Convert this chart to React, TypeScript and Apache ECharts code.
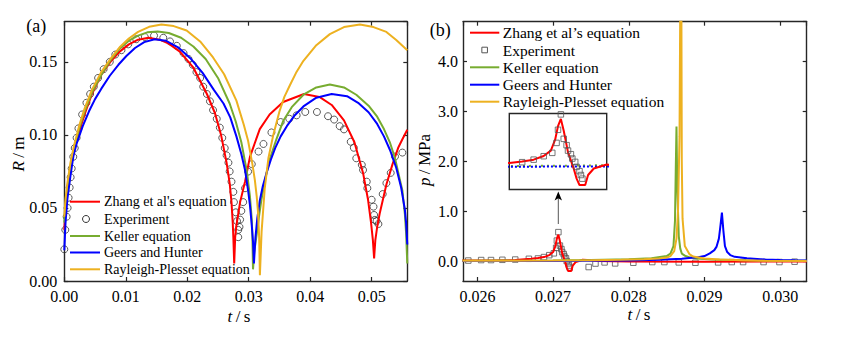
import React, { useEffect, useRef } from 'react';
import * as echarts from 'echarts';

const FONT = 'Liberation Serif, Times New Roman, Times, serif';

// ---------- Panel (a): bubble radius R (m) vs t (s) ----------
const zhangA: number[][] = [
  [0, 0.035], [0.0002, 0.048], [0.0005, 0.062], [0.001, 0.077], [0.0016, 0.089], [0.0024, 0.102],
  [0.0033, 0.114], [0.0045, 0.128], [0.006, 0.141], [0.0075, 0.150], [0.009, 0.157], [0.0105, 0.162],
  [0.012, 0.1652], [0.0137, 0.1665], [0.0155, 0.1652], [0.017, 0.1625], [0.0188, 0.157], [0.021, 0.146],
  [0.0232, 0.128], [0.0245, 0.115], [0.0255, 0.100], [0.0264, 0.081], [0.0269, 0.067], [0.0272, 0.054],
  [0.0274, 0.040], [0.0275, 0.030], [0.02764, 0.012], [0.0278, 0.030], [0.028, 0.038], [0.0286, 0.054],
  [0.0294, 0.068], [0.0302, 0.085], [0.0318, 0.104], [0.0334, 0.114], [0.0356, 0.1225], [0.039, 0.128],
  [0.0415, 0.126], [0.0435, 0.1205], [0.0455, 0.110], [0.0472, 0.095], [0.0486, 0.074], [0.0494, 0.056],
  [0.0499, 0.040], [0.0502, 0.028], [0.0504, 0.0155], [0.0506, 0.028], [0.0509, 0.037], [0.0513, 0.046],
  [0.0524, 0.066], [0.0534, 0.080], [0.0543, 0.091], [0.055, 0.097], [0.0558, 0.1035],
];
const kellerA: number[][] = [
  [0, 0.040], [0.0002, 0.053], [0.0005, 0.064], [0.001, 0.078], [0.0016, 0.090], [0.0024, 0.104],
  [0.0033, 0.116], [0.0045, 0.129], [0.006, 0.141], [0.0075, 0.151], [0.009, 0.159], [0.0105, 0.1645],
  [0.012, 0.168], [0.0135, 0.1702], [0.0152, 0.1708], [0.017, 0.1698], [0.019, 0.1665], [0.021, 0.1605],
  [0.023, 0.152], [0.025, 0.139], [0.0269, 0.1215], [0.0279, 0.109], [0.0288, 0.095], [0.0297, 0.075],
  [0.0302, 0.058], [0.0305, 0.042], [0.0306, 0.030], [0.0307, 0.008], [0.0309, 0.020], [0.0313, 0.032],
  [0.0317, 0.045], [0.0321, 0.0565], [0.0327, 0.070], [0.0334, 0.083], [0.0345, 0.097], [0.0356, 0.1095],
  [0.037, 0.119], [0.0389, 0.1275], [0.041, 0.1325], [0.0432, 0.1345], [0.0455, 0.1325], [0.0475, 0.1275],
  [0.0495, 0.120], [0.0509, 0.1125], [0.052, 0.104], [0.053, 0.0945], [0.0538, 0.084], [0.0545, 0.071],
  [0.055, 0.062], [0.0554, 0.046], [0.0556, 0.033], [0.0558, 0.012],
];
const geersA: number[][] = [
  [0, 0.021], [0.0002, 0.040], [0.0005, 0.056], [0.001, 0.072], [0.0015, 0.086], [0.002, 0.094],
  [0.003, 0.106], [0.004, 0.116], [0.005, 0.1245], [0.006, 0.1315], [0.0074, 0.1405], [0.0088, 0.148],
  [0.0101, 0.154], [0.0115, 0.1595], [0.013, 0.1635], [0.0147, 0.1655], [0.0165, 0.1645], [0.0185, 0.160],
  [0.0205, 0.1525], [0.0225, 0.1425], [0.0243, 0.131], [0.0259, 0.1215], [0.027, 0.112], [0.028, 0.099],
  [0.0288, 0.087], [0.0294, 0.076], [0.0299, 0.062], [0.0302, 0.052], [0.0305, 0.038], [0.0307, 0.027],
  [0.03085, 0.012], [0.0311, 0.030], [0.0314, 0.043], [0.0318, 0.055], [0.0323, 0.065], [0.0329, 0.074],
  [0.0336, 0.083], [0.0343, 0.091], [0.0352, 0.099], [0.0362, 0.106], [0.0375, 0.1135], [0.0389, 0.1195],
  [0.041, 0.1255], [0.0435, 0.128], [0.046, 0.1265], [0.0478, 0.122], [0.0495, 0.1155], [0.0509, 0.1075],
  [0.052, 0.099], [0.053, 0.0895], [0.054, 0.0775], [0.0548, 0.064], [0.0554, 0.049], [0.0556, 0.040],
  [0.0558, 0.025],
];
const rayleighA: number[][] = [
  [0, 0.044], [0.0002, 0.056], [0.0005, 0.067], [0.001, 0.081], [0.0016, 0.093], [0.0024, 0.106],
  [0.0033, 0.118], [0.0045, 0.131], [0.006, 0.143], [0.0075, 0.152], [0.009, 0.160], [0.0105, 0.166],
  [0.012, 0.1705], [0.0138, 0.174], [0.0158, 0.1756], [0.0178, 0.1745], [0.0199, 0.1715], [0.0221, 0.164],
  [0.0242, 0.153], [0.026, 0.1415], [0.028, 0.1235], [0.0292, 0.107], [0.0299, 0.096], [0.0306, 0.080],
  [0.031, 0.069], [0.0313, 0.058], [0.0315, 0.048], [0.0317, 0.030], [0.03182, 0.004], [0.0321, 0.034],
  [0.0326, 0.063], [0.0332, 0.084], [0.034, 0.100], [0.035, 0.116], [0.0358, 0.126], [0.0367, 0.134],
  [0.0377, 0.1425], [0.0389, 0.1507], [0.041, 0.1614], [0.0432, 0.169], [0.0455, 0.1738], [0.0481, 0.1756],
  [0.0503, 0.1738], [0.0524, 0.1705], [0.054, 0.165], [0.0558, 0.158],
];
const experimentA: number[][] = [
  [0, 0.0217], [0.00016, 0.035], [0.00038, 0.044], [0.00054, 0.050], [0.0007, 0.057], [0.00087, 0.064],
  [0.00103, 0.071], [0.0012, 0.077], [0.00146, 0.085], [0.0017, 0.091], [0.002, 0.098], [0.0023, 0.1045],
  [0.0029, 0.114], [0.0036, 0.122], [0.0042, 0.128], [0.0048, 0.133], [0.0055, 0.139], [0.0064, 0.145],
  [0.0074, 0.150], [0.0083, 0.155], [0.0093, 0.158], [0.0104, 0.162], [0.0117, 0.1655], [0.0131, 0.167],
  [0.0146, 0.168], [0.0161, 0.1665], [0.0172, 0.164], [0.0183, 0.161], [0.0194, 0.156], [0.0202, 0.152],
  [0.0209, 0.148], [0.0215, 0.143], [0.0221, 0.139], [0.0226, 0.133], [0.0232, 0.128], [0.0237, 0.123],
  [0.0242, 0.117], [0.0248, 0.111], [0.0253, 0.105], [0.0257, 0.098], [0.0261, 0.091], [0.0264, 0.086],
  [0.0267, 0.081], [0.0269, 0.075], [0.0272, 0.068], [0.0275, 0.061], [0.0276, 0.054], [0.0279, 0.047],
  [0.0281, 0.041], [0.0283, 0.035], [0.0283, 0.030], [0.0285, 0.037], [0.0286, 0.042], [0.0288, 0.048],
  [0.0291, 0.054], [0.0294, 0.0635], [0.0299, 0.0749], [0.0305, 0.080], [0.0316, 0.0886], [0.0324, 0.0938],
  [0.0337, 0.1017], [0.0352, 0.1088], [0.0366, 0.1111], [0.0378, 0.1134], [0.0392, 0.1157], [0.0411, 0.1157],
  [0.0429, 0.1128], [0.0439, 0.1105], [0.0448, 0.106], [0.0455, 0.1038], [0.0466, 0.0953], [0.0471, 0.0912],
  [0.0475, 0.084], [0.0484, 0.0795], [0.0486, 0.076], [0.0492, 0.068], [0.0493, 0.0635], [0.05, 0.0556],
  [0.0503, 0.0509], [0.0504, 0.0452], [0.0505, 0.0418], [0.0508, 0.041], [0.0511, 0.039], [0.0518, 0.0595],
  [0.0524, 0.067], [0.0531, 0.074], [0.0538, 0.0852], [0.055, 0.0879],
];

// ---------- Panel (b): pressure p (MPa) vs t (s) ----------
const zhangB: number[][] = [
  [0.0258, 0.01], [0.0262, 0.012], [0.0265, 0.02], [0.02671, 0.044], [0.0268, 0.06], [0.02688, 0.08],
  [0.02695, 0.12], [0.027, 0.18], [0.02703, 0.3], [0.02705, 0.45], [0.02707, 0.53], [0.02709, 0.40],
  [0.02712, 0.16], [0.02716, -0.02], [0.02718, -0.13], [0.0272, -0.2], [0.02724, -0.2], [0.02726, -0.09],
  [0.0273, -0.018], [0.02739, 0.026], [0.02745, 0.02], [0.0276, 0.0], [0.028, -0.01], [0.029, -0.012],
  [0.03035, -0.01],
];
const kellerB: number[][] = [
  [0.0258, 0.005], [0.027, 0.012], [0.0275, 0.02], [0.028, 0.035], [0.0283, 0.055], [0.0285, 0.1],
  [0.02855, 0.15], [0.02859, 0.3], [0.02861, 0.8], [0.02862, 1.8], [0.02863, 2.7], [0.02864, 1.5],
  [0.02866, 0.5], [0.02868, 0.25], [0.0287, 0.15], [0.02875, 0.1], [0.0288, 0.075], [0.0289, 0.05],
  [0.0291, 0.03], [0.0295, 0.015], [0.03, 0.007], [0.03035, 0.004],
];
const geersB: number[][] = [
  [0.0258, 0.0], [0.027, 0.003], [0.0275, 0.006], [0.028, 0.012], [0.0284, 0.025], [0.0287, 0.045],
  [0.0289, 0.074], [0.029, 0.1], [0.02907, 0.155], [0.02913, 0.22], [0.02916, 0.29], [0.02919, 0.45],
  [0.02921, 0.7], [0.02923, 0.97], [0.02925, 0.6], [0.02927, 0.3], [0.0293, 0.18], [0.02934, 0.12],
  [0.0294, 0.085], [0.02956, 0.054], [0.0298, 0.03], [0.03, 0.02], [0.0302, 0.015], [0.03035, 0.012],
];
const rayleighB: number[][] = [
  [0.0258, 0.005], [0.0265, 0.008], [0.027, 0.012], [0.0275, 0.018], [0.0279, 0.026], [0.0282, 0.036],
  [0.0284, 0.05], [0.0285, 0.07], [0.02855, 0.1], [0.0286, 0.2], [0.02863, 0.45], [0.02865, 1.0],
  [0.02867, 2.5], [0.02869, 8.0], [0.0287, 2.0], [0.02871, 0.85], [0.02874, 0.3], [0.0288, 0.14],
  [0.02885, 0.09], [0.029, 0.05], [0.0292, 0.03], [0.0295, 0.015], [0.0298, 0.007], [0.03035, 0.003],
];
const experimentB: number[][] = [
  [0.02588, 0.01], [0.02605, 0.02], [0.02618, 0.02], [0.02633, 0.025], [0.0265, 0.03], [0.02668, 0.045],
  [0.0268, 0.052], [0.02688, 0.08], [0.02695, 0.118], [0.02701, 0.155], [0.02704, 0.265], [0.02705, 0.41],
  [0.02707, 0.58], [0.02709, 0.31], [0.02711, 0.24], [0.02712, 0.18], [0.02714, 0.14], [0.02715, 0.092],
  [0.02717, 0.055], [0.02718, 0.0], [0.0272, -0.047], [0.02721, -0.09], [0.02722, -0.13], [0.02747, -0.12],
  [0.02756, -0.05], [0.02768, -0.027], [0.02782, -0.047], [0.02806, -0.034], [0.02831, -0.02],
  [0.02847, -0.02], [0.02866, -0.027], [0.02888, -0.034], [0.02918, -0.027], [0.02936, -0.02],
  [0.02951, -0.02], [0.02978, -0.02], [0.02999, -0.02], [0.03019, -0.013],
];

const legendNamesA = ["Zhang et al's equation", 'Experiment', 'Keller equation', 'Geers and Hunter', 'Rayleigh-Plesset equation'];
const legendNamesB = ['Zhang et al\u2019s equation', 'Experiment', 'Keller equation', 'Geers and Hunter', 'Rayleigh-Plesset equation'];

const C_RED = '#ff0000';
const C_GREEN = '#77ac30';
const C_BLUE = '#0000ff';
const C_YELLOW = '#edb120';
const C_AXIS = '#262626';

function buildOption() {
  const axisLine = { show: true, onZero: false, lineStyle: { color: C_AXIS, width: 1.4 } };
  const tick = { show: true, inside: true, length: 4, lineStyle: { color: C_AXIS, width: 1.2 } };
  const lbl = { color: '#000', fontFamily: FONT, fontSize: 16 };
  const noSplit = { show: false };

  const mkX = (grid: number, pos: string, extra: any, labels: any) => ({
    gridIndex: grid, type: 'value', position: pos, axisLine, axisTick: tick,
    axisLabel: labels, splitLine: noSplit, ...extra,
  });

  const xA = { min: 0, max: 0.0558, interval: 0.01 };
  const yA = { min: 0, max: 0.1775, interval: 0.05 };
  const xB = { min: 0.02581, max: 0.03035, splitNumber: 5 };
  const yB = { min: -0.4, max: 4.8, splitNumber: 5 };

  const line = (name: string, data: number[][], color: string, xi: number, yi: number, extra: any = {}) => ({
    name, type: 'line', data, xAxisIndex: xi, yAxisIndex: yi, symbol: 'none', showSymbol: false,
    lineStyle: { color, width: 2, ...(extra.lineStyle || {}) }, itemStyle: { color }, clip: true,
    z: extra.z || 2,
  });

  const legendRows = (names: string[], x1: number, x2: number, tx: number, ys: number[], fs: number, marker: 'circle' | 'square') => {
    const cols = [C_RED, null, C_GREEN, C_BLUE, C_YELLOW];
    const els: any[] = [];
    names.forEach((n, i) => {
      const y = ys[i];
      if (cols[i]) {
        els.push({ type: 'line', shape: { x1, y1: y, x2, y2: y }, style: { stroke: cols[i], lineWidth: 2 }, z: 10 });
      } else if (marker === 'circle') {
        els.push({ type: 'circle', shape: { cx: (x1 + x2) / 2 + 1, cy: y, r: 3.5 }, style: { fill: 'none', stroke: '#333', lineWidth: 1 }, z: 10 });
      } else {
        els.push({ type: 'rect', shape: { x: (x1 + x2) / 2 - 2.8, y: y - 2.8, width: 5.6, height: 5.6 }, style: { fill: 'none', stroke: '#555', lineWidth: 1 }, z: 10 });
      }
      els.push({ type: 'text', x: tx, y, z: 10, style: { text: n, fill: '#000', font: `${fs}px ${FONT}`, align: 'left', verticalAlign: 'middle' } });
    });
    return els;
  };

  const richLabel = (text: string, x: number, y: number, rot = 0) => ({
    type: 'text', x, y, rotation: rot, z: 10,
    style: {
      text, fill: '#000', font: `17px ${FONT}`, align: 'center', verticalAlign: 'middle',
      rich: {
        i: { fontStyle: 'italic', fontFamily: FONT, fontSize: 17, fill: '#000' },
        n: { fontFamily: FONT, fontSize: 17, fill: '#000' },
      },
    },
  });

  return {
    animation: false,
    backgroundColor: '#fff',
    textStyle: { fontFamily: FONT },
    grid: [
      { left: 64.3, top: 21.7, width: 343, height: 259.3 },
      { left: 463, top: 21.7, width: 343.7, height: 259.3 },
      { left: 509.3, top: 113.5, width: 97.4, height: 76, show: true, backgroundColor: '#fff', borderColor: C_AXIS, borderWidth: 1.4, z: 5 },
    ],
    xAxis: [
      mkX(0, 'bottom', xA, { ...lbl, margin: 7, showMaxLabel: false, formatter: (v: number) => v.toFixed(2) }),
      mkX(0, 'top', xA, { show: false }),
      mkX(1, 'bottom', xB, { ...lbl, margin: 7, showMinLabel: false, showMaxLabel: false, formatter: (v: number) => v.toFixed(3) }),
      mkX(1, 'top', xB, { show: false }),
      { gridIndex: 2, type: 'value', min: 0.02671, max: 0.02739, show: false, z: 5 },
    ],
    yAxis: [
      mkX(0, 'left', yA, { ...lbl, margin: 7, showMaxLabel: false, formatter: (v: number) => v.toFixed(2) }),
      mkX(0, 'right', yA, { show: false }),
      mkX(1, 'left', yB, { ...lbl, margin: 5, showMinLabel: false, showMaxLabel: false, formatter: (v: number) => v.toFixed(1) }),
      mkX(1, 'right', yB, { show: false }),
      { gridIndex: 2, type: 'value', min: -0.25, max: 0.59, show: false, z: 5 },
    ],
    series: [
      {
        name: 'Experiment', type: 'scatter', data: experimentA, xAxisIndex: 0, yAxisIndex: 0,
        symbol: 'circle', symbolSize: 7, itemStyle: { color: 'rgba(0,0,0,0)', borderColor: '#333', borderWidth: 1 }, z: 1,
      },
      line("Zhang et al's equation", zhangA, C_RED, 0, 0),
      line('Keller equation', kellerA, C_GREEN, 0, 0),
      line('Geers and Hunter', geersA, C_BLUE, 0, 0),
      line('Rayleigh-Plesset equation', rayleighA, C_YELLOW, 0, 0),

      {
        name: 'Experiment B', type: 'scatter', data: experimentB, xAxisIndex: 2, yAxisIndex: 2,
        symbol: 'rect', symbolSize: 5.5, itemStyle: { color: 'rgba(0,0,0,0)', borderColor: '#555', borderWidth: 1 }, z: 1,
      },
      line('Zhang B', zhangB, C_RED, 2, 2),
      line('Keller B', kellerB, C_GREEN, 2, 2),
      line('Geers B', geersB, C_BLUE, 2, 2),
      line('Rayleigh B', rayleighB, C_YELLOW, 2, 2),

      line('Keller inset', kellerB, C_GREEN, 4, 4, { z: 6, lineStyle: { width: 2, type: [2, 4] } }),
      line('Geers inset', geersB, C_BLUE, 4, 4, { z: 6, lineStyle: { width: 2, type: [2, 2] } }),
      line('Zhang inset', zhangB, C_RED, 4, 4, { z: 7 }),
      {
        name: 'Experiment inset', type: 'scatter', data: experimentB, xAxisIndex: 4, yAxisIndex: 4,
        symbol: 'rect', symbolSize: 5.5, itemStyle: { color: 'rgba(0,0,0,0)', borderColor: '#555', borderWidth: 1 }, z: 8,
      },
    ],
    graphic: [
      ...legendRows(legendNamesA, 70, 100, 104, [201.7, 219, 236, 252.5, 269.3], 14, 'circle'),
      ...legendRows(legendNamesB, 470, 499.3, 502.7, [32.7, 50, 67.3, 84.7, 101.7], 15.5, 'square'),
      { type: 'text', x: 36.3, y: 25.5, z: 10, style: { text: '(a)', fill: '#000', font: `18px ${FONT}`, align: 'center', verticalAlign: 'middle' } },
      { type: 'text', x: 440.3, y: 30, z: 10, style: { text: '(b)', fill: '#000', font: `18px ${FONT}`, align: 'center', verticalAlign: 'middle' } },
      richLabel('{i|R}{n|\u2009/\u2009m}', 18.7, 154, Math.PI / 2),
      richLabel('{i|t}{n|\u2009/\u2009s}', 239, 316),
      richLabel('{i|p}{n|\u2009/\u2009MPa}', 424.5, 160, Math.PI / 2),
      richLabel('{i|t}{n|\u2009/\u2009s}', 639, 314),
      { type: 'line', shape: { x1: 558.3, y1: 224, x2: 558.3, y2: 197 }, style: { stroke: '#555', lineWidth: 1 }, z: 10 },
      { type: 'polygon', shape: { points: [[558.3, 191.5], [554.6, 200.5], [558.3, 198.2], [562, 200.5]] }, style: { fill: '#000' }, z: 10 },
    ],
  };
}

export default function App() {
  const ref = useRef<HTMLDivElement>(null);
  useEffect(() => {
    const chart = echarts.init(ref.current as HTMLDivElement, undefined, { renderer: 'svg' });
    chart.setOption(buildOption() as any);
    return () => chart.dispose();
  }, []);
  return <div ref={ref} style={{ position: 'absolute', left: 0, top: 0, width: 856, height: 345 }} />;
}
